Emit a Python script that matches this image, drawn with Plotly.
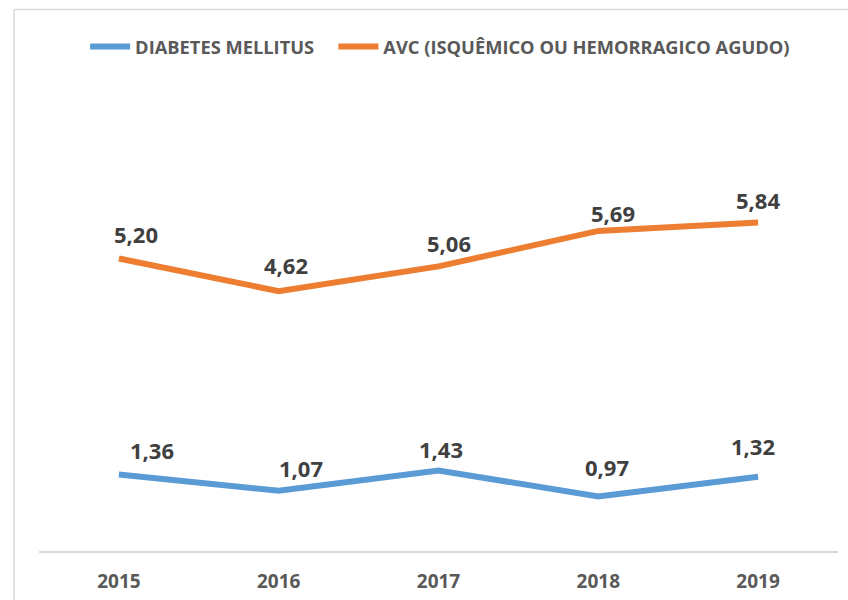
import plotly.graph_objects as go

years = ["2015", "2016", "2017", "2018", "2019"]
diabetes = [1.36, 1.07, 1.43, 0.97, 1.32]
avc = [5.20, 4.62, 5.06, 5.69, 5.84]
series_names = ["DIABETES MELLITUS\u00a0\u00a0\u00a0", "AVC (ISQUÊMICO OU HEMORRAGICO AGUDO)"]

# label offsets (px) of the data labels relative to their points
diabetes_label_dx = [33, 22, 2, 9, -5]
diabetes_label_dy = [25, 23, 22, 29, 31]
avc_label_dx = [17, 7, 10, 15, 0]
avc_label_dy = [25, 26, 23, 18, 23]

BLUE = "#5B9BD5"
ORANGE = "#ED7D31"
FONT = "Open Sans"

fig = go.Figure()
fig.add_trace(go.Scatter(x=years, y=diabetes, mode="lines", name=series_names[0],
                         line=dict(color=BLUE, width=6)))
fig.add_trace(go.Scatter(x=years, y=avc, mode="lines", name=series_names[1],
                         line=dict(color=ORANGE, width=6)))

def fmt(v):
    return f"{v:.2f}".replace(".", ",")

annotations = []
for vals, dxs, dys in [(diabetes, diabetes_label_dx, diabetes_label_dy),
                       (avc, avc_label_dx, avc_label_dy)]:
    for i, (v, dx, dy) in enumerate(zip(vals, dxs, dys)):
        annotations.append(dict(x=i, y=v, xref="x", yref="y", text=fmt(v), showarrow=False,
                                xanchor="center", yanchor="middle",
                                xshift=dx, yshift=dy,
                                font=dict(family=FONT, size=22, color="#404040", weight="bold")))

fig.update_layout(
    width=848, height=600,
    margin=dict(l=39, r=10, t=101, b=49, autoexpand=False),
    paper_bgcolor="white", plot_bgcolor="white",
    showlegend=True,
    legend=dict(orientation="h", x=0.502, xanchor="center", y=1.121, yanchor="middle",
                font=dict(family=FONT, size=18.3, color="#595959", weight="bold"),
                itemwidth=40, tracegroupgap=0),
    xaxis=dict(type="category", range=[-0.5, 4.5], showgrid=False, zeroline=False,
               showline=True, linecolor="#D9D9D9", linewidth=1.5, automargin=False,
               ticks="", ticklabelstandoff=12,
               tickfont=dict(family=FONT, size=19, color="#595959", weight="bold")),
    yaxis=dict(range=[0, 8], showgrid=False, zeroline=False, showline=False,
               showticklabels=False, automargin=False),
    annotations=annotations,
    shapes=[
        dict(type="line", xref="paper", yref="paper", x0=-0.0313, x1=1.02, y0=1.2033, y1=1.2033,
             line=dict(color="#D9D9D9", width=1.5)),
        dict(type="line", xref="paper", yref="paper", x0=-0.0313, x1=-0.0313, y0=-0.12, y1=1.2033,
             line=dict(color="#D9D9D9", width=1.5)),
    ],
)

fig.write_html("out.html", config={"displayModeBar": False},
               post_script="document.body.style.margin='0';")
